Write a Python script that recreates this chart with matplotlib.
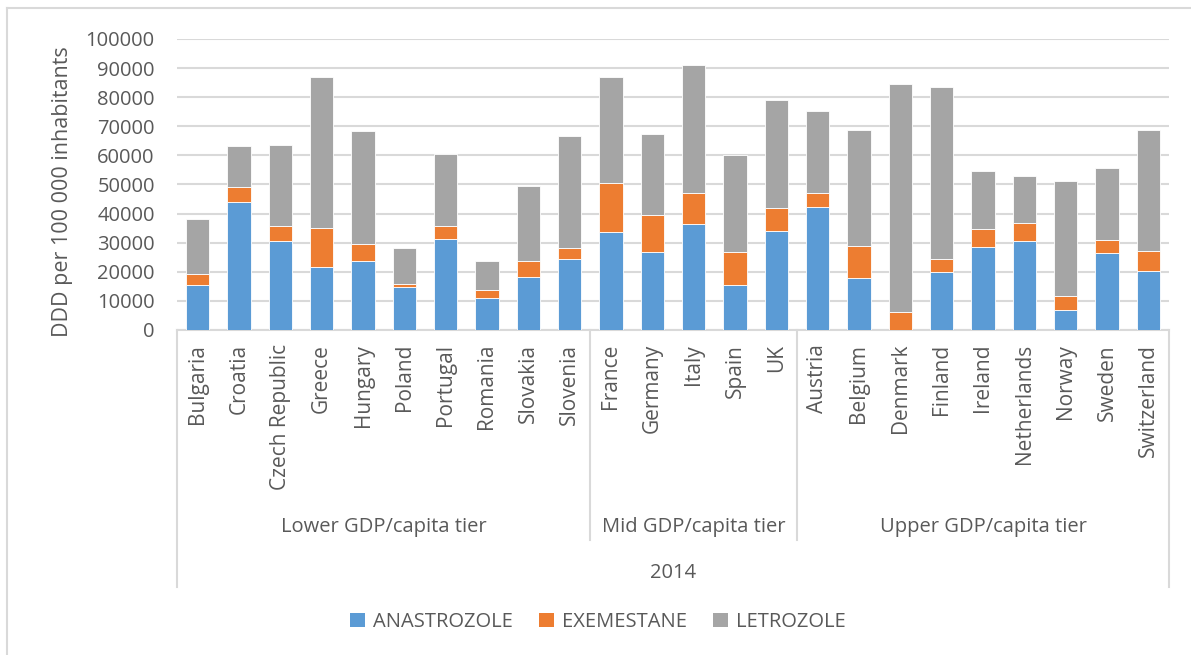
import matplotlib
matplotlib.use("Agg")
import matplotlib.pyplot as plt
from matplotlib.patches import Patch
from matplotlib.lines import Line2D
import numpy as np

countries = ["Bulgaria", "Croatia", "Czech Republic", "Greece", "Hungary", "Poland",
             "Portugal", "Romania", "Slovakia", "Slovenia",
             "France", "Germany", "Italy", "Spain", "UK",
             "Austria", "Belgium", "Denmark", "Finland", "Ireland", "Netherlands",
             "Norway", "Sweden", "Switzerland"]
tiers = ["Lower GDP/capita tier", "Mid GDP/capita tier", "Upper GDP/capita tier"]
tier_sizes = [10, 5, 9]
year_label = "2014"

anastrozole = [15500, 44100, 30700, 21600, 23700, 14800, 31200, 11000, 18300, 24500,
               33800, 26900, 36500, 15500, 33900,
               42300, 17900, 0, 20100, 28500, 30700, 6900, 26400, 20400]
exemestane_top = [19200, 49100, 35700, 35000, 29500, 15700, 35700, 13700, 23800, 28100,
                  50500, 39500, 47000, 26900, 42000,
                  47200, 28800, 6100, 24300, 34700, 36900, 11700, 31000, 27200]
total_top = [38100, 63300, 63600, 87100, 68500, 28200, 60600, 23800, 49500, 66600,
             87100, 67200, 91200, 60300, 78900,
             75400, 68900, 84600, 83500, 54800, 52800, 51300, 55500, 68700]

exemestane = [e - a for e, a in zip(exemestane_top, anastrozole)]
letrozole = [t - e for t, e in zip(total_top, exemestane_top)]

series_names = ["ANASTROZOLE", "EXEMESTANE", "LETROZOLE"]
colors = ["#5B9BD5", "#ED7D31", "#A5A5A5"]

plt.rcParams['font.family'] = ['Open Sans', 'DejaVu Sans']
txt = "#595959"
grid_c = "#D9D9D9"

fig = plt.figure(figsize=(11.91, 6.55), dpi=100)
ax = fig.add_axes([177/1191, 1-330/655, (1169-177)/1191, 291/655])

x = np.arange(len(countries))
w = 0.56
bottom = np.zeros(len(countries))
for vals, c in zip([anastrozole, exemestane, letrozole], colors):
    ax.bar(x, vals, w, bottom=bottom, color=c, edgecolor="white", linewidth=0.6, zorder=3)
    bottom += np.array(vals)

ax.set_xlim(-0.5, len(countries) - 0.5)
ax.set_ylim(0, 100000)
ax.set_yticks(np.arange(0, 100001, 10000))
ax.yaxis.grid(True, color=grid_c, linewidth=1.5, zorder=0)
ax.set_axisbelow(True)
for s in ["top", "right", "left"]:
    ax.spines[s].set_visible(False)
ax.spines["bottom"].set_color(grid_c)
ax.spines["bottom"].set_linewidth(1.5)
ax.tick_params(axis="y", length=0, pad=16, labelsize=14.5, labelcolor=txt)
ax.set_xticks(x)
ax.set_xticklabels(countries, rotation=90, fontsize=15, color=txt)
ax.tick_params(axis="x", length=0, pad=10)
ax.set_ylabel("DDD per 100 000 inhabitants", fontsize=15.5, color=txt)
ax.yaxis.set_label_coords((73 - 177) / 992, (330 - 192) / 291)

tr = ax.get_xaxis_transform()
y_sep = (330 - 540) / 291
y_out = (330 - 587) / 291
# outer vertical lines
for xv in [-0.5, len(countries) - 0.5]:
    ax.plot([xv, xv], [0, y_out], transform=tr, color=grid_c, lw=1.5, clip_on=False)
# separators and tier labels
start = 0
for i, (name, n) in enumerate(zip(tiers, tier_sizes)):
    end = start + n
    if i > 0:
        ax.plot([start - 0.5, start - 0.5], [0, y_sep], transform=tr, color=grid_c, lw=1.5, clip_on=False)
    ax.text((start + end - 1) / 2, (330 - 527) / 291, name, transform=tr, ha="center", va="center",
            fontsize=14.5, color=txt)
    start = end
ax.text((len(countries) - 1) / 2, (330 - 573) / 291, year_label, transform=tr, ha="center", va="center",
        fontsize=14.5, color=txt)

handles = [Patch(facecolor=c, edgecolor="none") for c in colors]
fig.legend(handles, series_names, loc="center", bbox_to_anchor=(598/1191, 1 - 622/655), ncol=3,
           frameon=False, fontsize=14.5, labelcolor=txt, handlelength=0.75, handleheight=0.75,
           handletextpad=0.4, columnspacing=1.3)

# outer chart frame
fig.add_artist(Line2D([7/1191, 7/1191], [0, 1 - 8/655], color=grid_c, lw=1.5, transform=fig.transFigure))
fig.add_artist(Line2D([7/1191, 1], [1 - 8/655, 1 - 8/655], color=grid_c, lw=1.5, transform=fig.transFigure))

fig.savefig("out.png", dpi=100)
